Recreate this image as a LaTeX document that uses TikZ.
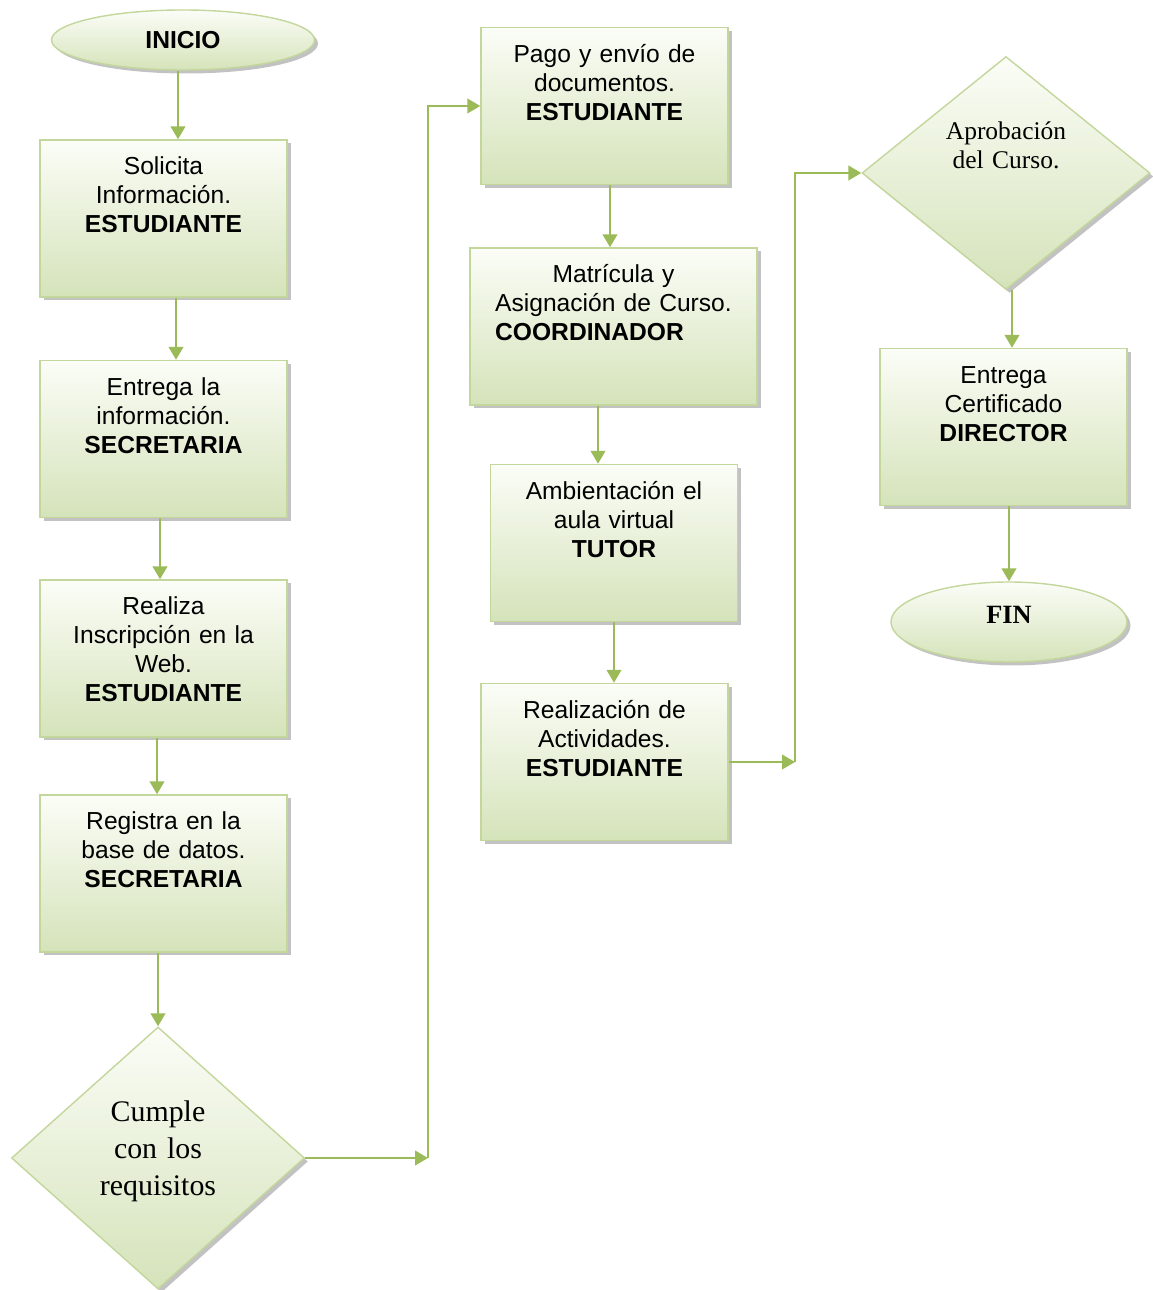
\documentclass[tikz,border=0pt]{standalone}
\usepackage{fontspec}
\setmainfont{Liberation Serif}
\setsansfont{Liberation Sans}
\usetikzlibrary{arrows.meta,positioning,shapes.geometric,shadows}
\definecolor{Ink}{HTML}{000000}
\definecolor{BoxTop}{HTML}{FBFDF7}
\definecolor{BoxBottom}{HTML}{D5E3BA}
\definecolor{BoxEdge}{HTML}{C3D69B}
\definecolor{FlowLine}{HTML}{9BBB59}
\definecolor{ShadowGray}{HTML}{9A9A9A}
\tikzset{
  soft shadow/.style={drop shadow={shadow xshift=0.7mm, shadow yshift=-0.7mm, fill=ShadowGray, opacity=0.6}},
  proc box/.style={draw=BoxEdge, line width=0.8pt, top color=BoxTop, bottom color=BoxBottom, soft shadow,
    minimum width=4.94cm, text width=4.7cm, align=center, inner xsep=1.2mm, inner ysep=0pt,
    text height=7mm, text depth=24.4mm, font=\sffamily\fontsize{14}{16.4}\selectfont, text=Ink},
  end oval/.style={ellipse, draw=BoxEdge, line width=0.8pt, top color=BoxTop, bottom color=BoxBottom,
    soft shadow, inner sep=0pt, text=Ink},
  decision/.style={diamond, draw=BoxEdge, line width=0.8pt, top color=BoxTop, bottom color=BoxBottom,
    soft shadow, align=center, inner sep=0pt, text=Ink},
  flow/.style={-{Triangle[length=2.6mm,width=2.9mm]}, draw=FlowLine, line width=1.5pt},
}

\begin{document}
\begin{tikzpicture}
  \useasboundingbox (0,0) rectangle (23.06,25.8);

  % Left column: request, registration and check.
  \node[end oval, minimum width=5.26cm, minimum height=1.2cm,
    font=\sffamily\bfseries\fontsize{14}{16}\selectfont] (inicio) at (3.66,25.0) {INICIO};
  \node[proc box] (solicita) at (3.27,21.43) {Solicita\\Información.\\\textbf{ESTUDIANTE}};
  \node[proc box] (entrega) at (3.27,17.02) {Entrega la\\información.\\\textbf{SECRETARIA}};
  \node[proc box] (realiza) at (3.27,12.63) {Realiza\\Inscripción en la\\Web.\\\textbf{ESTUDIANTE}};
  \node[proc box] (registra) at (3.27,8.33) {Registra en la\\base de datos.\\\textbf{SECRETARIA}};
  \node[decision, minimum width=5.86cm, minimum height=5.24cm, aspect=1.118, text width=3cm,
    text height=4.5mm, text depth=19.1mm, font=\rmfamily\fontsize{17}{21}\selectfont]
    (cumple) at (3.16,2.64) {Cumple\\con los\\requisitos};

  % Middle column: enrolment and course work.
  \node[proc box, minimum width=4.9cm] (pago) at (12.09,23.68) {Pago y envío de\\documentos.\\\textbf{ESTUDIANTE}};
  \node[proc box, minimum width=5.74cm, text width=5.5cm] (matricula) at (12.27,19.27)
    {Matrícula y\\Asignación de Curso.\\\textbf{COORDINADOR}\hspace*{9.6mm}};
  \node[proc box, minimum width=4.92cm] (ambienta) at (12.28,14.94) {Ambientación el\\aula virtual\\\textbf{TUTOR}};
  \node[proc box, minimum width=4.9cm] (actividades) at (12.09,10.56) {Realización de\\Actividades.\\\textbf{ESTUDIANTE}};

  % Right column: approval and certificate.
  \node[decision, minimum width=5.76cm, minimum height=4.66cm, aspect=1.236, text width=2.6cm,
    text height=4mm, text depth=17.4mm, font=\rmfamily\fontsize{14.5}{16.5}\selectfont]
    (aprobacion) at (20.12,22.34) {Aprobación\\del Curso.};
  \node[proc box] (certificado) at (20.07,17.26) {Entrega\\Certificado\\\textbf{DIRECTOR}};
  \node[end oval, minimum width=4.72cm, minimum height=1.6cm, text depth=2.8mm,
    font=\rmfamily\bfseries\fontsize{15}{17}\selectfont] (fin) at (20.18,13.36) {FIN};

  \coordinate (turn a) at (8.56,2.64);
  \coordinate (turn b) at (15.9,10.56);

  % Connectors.
  \draw[flow] ([xshift=-1mm]inicio.south) -- ([xshift=-1mm]inicio.south |- solicita.north);
  \draw[flow] ([xshift=2.5mm]solicita.south) -- ([xshift=2.5mm]solicita.south |- entrega.north);
  \draw[flow] ([xshift=-0.7mm]entrega.south) -- ([xshift=-0.7mm]entrega.south |- realiza.north);
  \draw[flow] ([xshift=-1.3mm]realiza.south) -- ([xshift=-1.3mm]realiza.south |- registra.north);
  \draw[flow] (registra.south -| cumple.north) -- (cumple.north);
  \draw[flow] (cumple.east) -- (turn a);
  \draw[flow] (turn a) |- (pago.west);

  \draw[flow] ([xshift=1.1mm]pago.south) -- ([xshift=1.1mm]pago.south |- matricula.north);
  \draw[flow] ([xshift=-3.1mm]matricula.south) -- ([xshift=-3.1mm]matricula.south |- ambienta.north);
  \draw[flow] (ambienta.south) -- (ambienta.south |- actividades.north);
  \draw[flow] (actividades.east) -- (turn b);
  \draw[flow] (turn b) |- (aprobacion.west);

  \draw[flow] ([xshift=1.2mm]aprobacion.south) -- ([xshift=1.2mm]aprobacion.south |- certificado.north);
  \draw[flow] (certificado.south -| fin.north) -- (fin.north);
\end{tikzpicture}
\end{document}
